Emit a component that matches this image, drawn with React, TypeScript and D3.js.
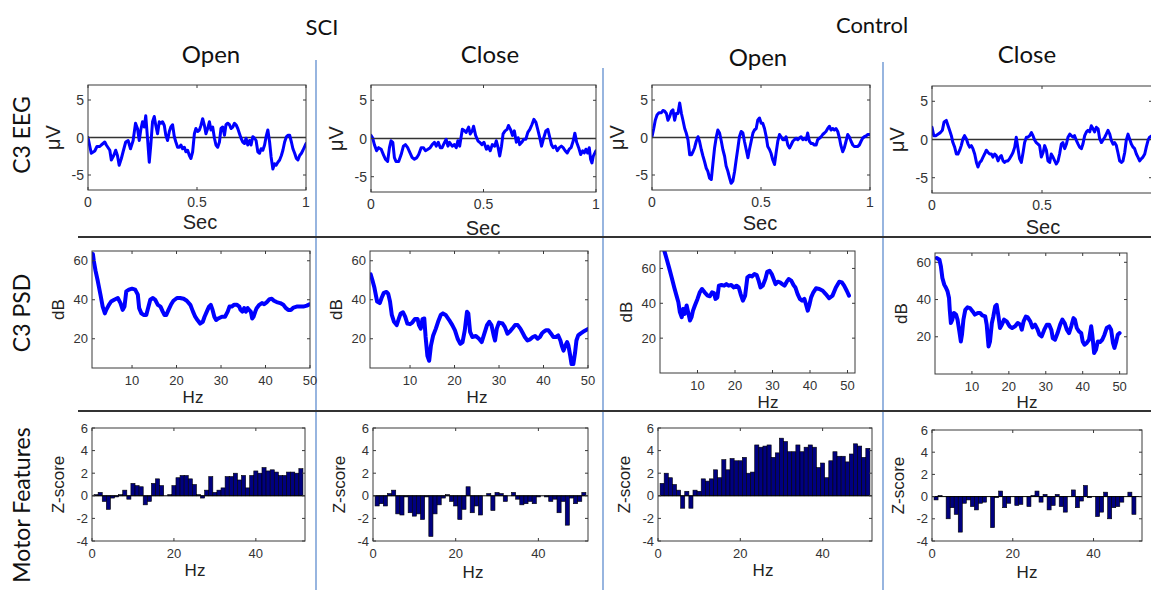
import * as d3 from 'd3';

type Pt = [number, number];

// ---- labels ----
const groups = ['SCI', 'Control'];
const conditions = ['Open', 'Close', 'Open', 'Close'];
const rowLabels = ['C3 EEG', 'C3 PSD', 'Motor Features'];

// ---- ticks ----
const eegTicksX = [0, 0.5, 1];
const eegTicksY = [-5, 0, 5];
const psdTicksX = [10, 20, 30, 40, 50];
const psdTicksY = [20, 40, 60];
const zTicksX = [0, 20, 40];
const zTicksY = [-4, -2, 0, 2, 4, 6];

// ---- C3 EEG traces [sec, uV] ----
const sciOpenEeg: Pt[] = [
  [0, 0], [0.015, -2.1], [0.031, -1.8], [0.041, -1.2], [0.054, -1.2], [0.061, -1.0], [0.077, -0.6], [0.084, -1.0],
  [0.1, -1.7], [0.107, -3.0], [0.118, -2.4], [0.127, -1.7], [0.135, -2.4], [0.143, -3.7], [0.153, -2.8], [0.161, -1.9],
  [0.173, -0.6], [0.184, -0.4], [0.195, -1.5], [0.207, -0.4], [0.218, 1.9], [0.227, 1.2], [0.235, -0.4], [0.242, 1.0],
  [0.25, 2.1], [0.258, 1.4], [0.265, 2.9], [0.273, -0.1], [0.281, -3.3], [0.288, -1.0], [0.296, 2.1], [0.304, 2.8],
  [0.311, 1.6], [0.319, 0.5], [0.327, 2.1], [0.334, 1.9], [0.342, 2.1], [0.35, 1.6], [0.357, 0.3], [0.365, -0.4],
  [0.373, 0.8], [0.38, 1.4], [0.388, 1.7], [0.396, 0.1], [0.403, -0.6], [0.411, -1.3], [0.419, -1.3], [0.426, -1.0],
  [0.434, -1.5], [0.442, -1.3], [0.449, -1.9], [0.457, -1.7], [0.465, -2.4], [0.472, -2.8], [0.48, -1.9], [0.488, 0.5],
  [0.495, 1.2], [0.503, 0.8], [0.511, 1.0], [0.518, 1.6], [0.526, 2.5], [0.534, 1.6], [0.541, 0.5], [0.549, 1.2],
  [0.557, 2.1], [0.564, 1.0], [0.572, 1.4], [0.58, -0.1], [0.587, -1.0], [0.595, -1.3], [0.603, -0.6], [0.61, 1.2],
  [0.618, 1.4], [0.626, 0.3], [0.633, 1.7], [0.641, 1.9], [0.649, 1.7], [0.656, 1.2], [0.664, 1.4], [0.672, 1.9],
  [0.679, 1.7], [0.687, 1.2], [0.695, 0.5], [0.702, -0.1], [0.71, -0.6], [0.718, -0.8], [0.725, -0.1], [0.733, -1.0],
  [0.741, -0.4], [0.748, -1.0], [0.756, 0.1], [0.764, -0.1], [0.771, -0.4], [0.779, -1.9], [0.787, -2.1], [0.794, -1.5],
  [0.802, -1.7], [0.81, -1.0], [0.817, 0.1], [0.825, 1.0], [0.833, -0.6], [0.84, -2.6], [0.848, -4.2], [0.856, -3.5],
  [0.863, -3.7], [0.871, -3.3], [0.879, -3.0], [0.887, -2.4], [0.894, -1.7], [0.902, -0.6], [0.91, 0.1], [0.917, 0.3],
  [0.925, 0.3], [0.933, -0.6], [0.94, -1.5], [0.948, -2.1], [0.956, -2.8], [0.963, -3.0], [0.971, -2.4], [0.979, -2.1],
  [0.986, -1.7], [1, -0.8],
];
const sciCloseEeg: Pt[] = [
  [0, 0.4], [0.007, 0.1], [0.015, -0.8], [0.025, -1.6], [0.034, -1.2], [0.045, -1.4], [0.055, -2.1], [0.064, -2.7],
  [0.074, -3.0], [0.082, -1.2], [0.089, -0.3], [0.097, -0.5], [0.104, -2.5], [0.111, -3.0], [0.123, -3.0], [0.134, -2.1],
  [0.144, -1.0], [0.153, -0.8], [0.163, -1.2], [0.174, -1.9], [0.183, -2.5], [0.193, -2.7], [0.204, -2.5], [0.212, -2.1],
  [0.223, -1.2], [0.233, -1.2], [0.242, -1.6], [0.253, -1.4], [0.263, -1.2], [0.272, -0.8], [0.282, -0.5], [0.29, -1.0],
  [0.299, -0.5], [0.308, -1.2], [0.316, -1.2], [0.327, -0.5], [0.334, -0.1], [0.342, -1.0], [0.349, -0.5], [0.361, -1.0],
  [0.371, -0.8], [0.379, -1.2], [0.386, -0.3], [0.394, -1.0], [0.406, 1.2], [0.416, 1.0], [0.423, 0.8], [0.434, 1.5],
  [0.441, 0.6], [0.45, 1.0], [0.456, 1.6], [0.465, 0.4], [0.475, -0.3], [0.483, -0.5], [0.493, -0.8], [0.502, -0.5],
  [0.513, -1.4], [0.52, -1.0], [0.53, -1.6], [0.539, -0.8], [0.55, -1.0], [0.557, -0.3], [0.565, -1.2], [0.572, -2.3],
  [0.58, -1.0], [0.587, 0.6], [0.596, 1.0], [0.605, 1.2], [0.611, 1.7], [0.62, 1.2], [0.629, 0.4], [0.637, 1.0],
  [0.646, -0.5], [0.654, 0.1], [0.661, -0.8], [0.67, -0.5], [0.679, -0.1], [0.688, -0.1], [0.697, 0.8], [0.706, 1.2],
  [0.715, 1.8], [0.724, 2.5], [0.733, 2.1], [0.741, 1.2], [0.75, 0.1], [0.758, -1.0], [0.768, 0.1], [0.777, 1.0],
  [0.786, 1.2], [0.795, 0.1], [0.802, -0.8], [0.81, -1.2], [0.819, -1.0], [0.828, -1.6], [0.837, -1.2], [0.846, -1.0],
  [0.854, -1.2], [0.863, -1.6], [0.872, -1.9], [0.881, -1.4], [0.889, -1.2], [0.899, -0.3], [0.906, 0.7], [0.914, -0.5],
  [0.923, -1.2], [0.932, -2.1], [0.941, -1.6], [0.948, -1.9], [0.955, -1.4], [0.963, -1.9], [0.97, -1.2], [0.976, -2.7],
  [0.982, -3.2], [0.988, -2.3], [1, -1.6],
];
const ctlOpenEeg: Pt[] = [
  [0, 0.1], [0.008, 1.2], [0.015, 2.3], [0.023, 3.0], [0.032, 3.3], [0.043, 3.3], [0.05, 3.6], [0.058, 3.5],
  [0.066, 3.2], [0.073, 2.3], [0.081, 2.8], [0.089, 3.5], [0.096, 3.7], [0.104, 2.3], [0.111, 3.2], [0.119, 3.2],
  [0.127, 4.6], [0.135, 3.2], [0.142, 2.3], [0.15, 1.2], [0.157, 0.6], [0.165, -0.3], [0.173, -2.3], [0.181, -2.3],
  [0.188, -1.9], [0.195, -1.4], [0.203, -0.5], [0.211, 0.1], [0.218, -0.5], [0.226, -1.6], [0.234, -2.5], [0.241, -3.2],
  [0.249, -4.1], [0.256, -4.5], [0.264, -5.4], [0.272, -5.6], [0.279, -3.6], [0.287, -1.4], [0.295, 0.1], [0.302, 1.0],
  [0.31, 0.6], [0.318, -0.5], [0.325, -1.6], [0.333, -2.5], [0.34, -3.8], [0.348, -4.5], [0.356, -5.4], [0.363, -6.1],
  [0.371, -5.8], [0.379, -4.5], [0.386, -3.0], [0.394, -1.4], [0.401, 0.1], [0.409, 0.8], [0.417, 0.6], [0.424, -0.5],
  [0.432, -1.6], [0.44, -2.7], [0.447, -1.6], [0.455, -0.5], [0.463, 0.6], [0.47, 1.0], [0.478, 1.2], [0.485, 2.3],
  [0.493, 2.6], [0.501, 1.9], [0.508, 1.9], [0.516, 1.2], [0.524, 0.1], [0.531, -1.2], [0.539, -1.6], [0.546, -2.1],
  [0.554, -3.0], [0.562, -3.6], [0.569, -2.1], [0.577, -0.5], [0.585, 0.4], [0.592, 0.1], [0.6, -0.3], [0.608, -0.3],
  [0.615, 0.1], [0.623, -1.0], [0.631, -1.4], [0.638, -1.0], [0.646, -0.5], [0.653, -0.3], [0.661, -0.1], [0.669, -0.3],
  [0.676, -0.1], [0.684, 0.1], [0.692, -0.3], [0.699, -0.1], [0.707, -0.3], [0.714, 0.6], [0.722, -0.5], [0.73, -0.8],
  [0.737, -0.8], [0.745, -1.0], [0.753, -1.0], [0.76, -0.3], [0.768, -0.1], [0.776, 0.1], [0.783, 0.4], [0.791, 0.6],
  [0.798, 0.8], [0.806, 1.2], [0.814, 1.5], [0.821, 1.0], [0.829, 1.2], [0.837, 1.0], [0.844, 1.2], [0.852, 0.8],
  [0.86, -0.1], [0.866, -1.0], [0.875, -1.9], [0.882, -1.4], [0.89, -0.5], [0.898, 0.4], [0.905, 0.1], [0.913, -0.5],
  [0.921, -1.0], [0.928, -1.2], [0.936, -1.2], [0.943, -1.2], [0.951, -1.0], [0.959, -0.5], [0.966, -0.1], [0.974, 0.1],
  [0.982, 0.2], [0.989, 0.4], [1, 0.4],
];
const ctlCloseEeg: Pt[] = [
  [0, 1.6], [0.008, 0.5], [0.017, 0.5], [0.027, 0.7], [0.038, 0.9], [0.047, 1.2], [0.055, 2.3], [0.065, 2.5],
  [0.073, 1.8], [0.08, 1.2], [0.088, 0.5], [0.095, -0.4], [0.103, -1.0], [0.111, -1.9], [0.118, -1.9], [0.126, -1.4],
  [0.133, -0.8], [0.141, 0.1], [0.148, 0.5], [0.156, 0.1], [0.164, -0.6], [0.171, -1.0], [0.179, -0.8], [0.186, -1.2],
  [0.194, -1.9], [0.202, -3.0], [0.209, -3.6], [0.217, -3.0], [0.224, -2.8], [0.232, -2.3], [0.239, -1.9], [0.247, -1.4],
  [0.255, -1.7], [0.262, -1.9], [0.27, -1.9], [0.277, -2.3], [0.285, -1.9], [0.292, -2.1], [0.3, -2.8], [0.308, -2.3],
  [0.315, -2.1], [0.323, -2.8], [0.33, -3.0], [0.338, -2.8], [0.345, -2.8], [0.353, -2.5], [0.361, -2.1], [0.368, -1.7],
  [0.376, -1.0], [0.383, 0.3], [0.391, -1.2], [0.398, -2.5], [0.406, -3.0], [0.414, -1.7], [0.421, -0.4], [0.429, 0.3],
  [0.436, 0.3], [0.444, 0.5], [0.452, 0.9], [0.459, 0.5], [0.467, -0.1], [0.474, -0.4], [0.482, -0.6], [0.489, -0.8],
  [0.497, -2.3], [0.505, -1.7], [0.512, -0.8], [0.52, -1.4], [0.527, -2.8], [0.535, -3.0], [0.542, -1.9], [0.55, -2.3],
  [0.558, -2.8], [0.565, -3.2], [0.573, -2.8], [0.58, -1.9], [0.588, -0.6], [0.595, -0.4], [0.603, -1.2], [0.611, -0.6],
  [0.618, 0.3], [0.626, 0.7], [0.633, 0.5], [0.641, 0.3], [0.648, 0.5], [0.656, -0.1], [0.664, -0.6], [0.671, -1.0],
  [0.679, -1.2], [0.686, -0.6], [0.694, 0.5], [0.702, 1.0], [0.709, 1.2], [0.717, 1.0], [0.724, 1.8], [0.732, 1.4],
  [0.739, 1.0], [0.747, 1.6], [0.755, 1.4], [0.762, 0.1], [0.77, -0.4], [0.777, -0.1], [0.785, 0.3], [0.792, 0.7],
  [0.8, 1.2], [0.808, 0.7], [0.815, -0.1], [0.823, -0.6], [0.83, -0.4], [0.838, -0.8], [0.845, -1.7], [0.853, -2.8],
  [0.861, -3.0], [0.868, -2.8], [0.876, -1.7], [0.883, -0.1], [0.891, 0.7], [0.898, 0.1], [0.906, -0.6], [0.914, -1.0],
  [0.921, -1.2], [0.929, -1.9], [0.936, -2.3], [0.944, -2.8], [0.952, -2.5], [0.959, -2.3], [0.967, -1.9], [0.974, -1.0],
  [0.982, -0.1], [0.989, 0.3], [1, 0.5],
];

// ---- C3 PSD traces [Hz, dB] ----
const sciOpenPsd: Pt[] = [
  [1.2, 63.5], [1.4, 60], [1.8, 54.8], [2.3, 49.6], [2.9, 42.6], [3.4, 36.5], [3.9, 33], [4.2, 34.8], [4.8, 37.4],
  [5.3, 39.1], [6.0, 40], [6.8, 40.9], [7.4, 38.3], [7.9, 34.8], [8.3, 36.5], [8.7, 44.3], [9.3, 45.2], [10, 45.7],
  [10.7, 45.2], [11.3, 42.6], [11.6, 35.7], [12.1, 33], [12.6, 32.2], [13.2, 32.2], [13.7, 36.5], [14.1, 40],
  [14.7, 40.9], [15.2, 40], [15.8, 37.4], [16.4, 36.5], [16.9, 33.9], [17.3, 32.2], [17.7, 32.2], [18.2, 34.8],
  [18.8, 37.7], [19.3, 39.5], [20.1, 40.9], [20.8, 40.9], [21.6, 40.5], [22.3, 39.5], [23.1, 37.4], [23.7, 33.9],
  [24.2, 31.3], [24.7, 29.6], [25.3, 27.8], [25.9, 28.7], [26.3, 31.3], [26.8, 33.9], [27.3, 36.5], [27.7, 37.4],
  [28.1, 34.8], [28.5, 31.3], [28.9, 29.6], [29.4, 30.4], [30.2, 31.3], [30.9, 31.3], [31.5, 33.9], [31.9, 36.5],
  [32.4, 36.5], [32.9, 37.4], [33.6, 37.4], [34.1, 36.5], [34.4, 34.8], [34.8, 33.9], [35.2, 35.7], [35.6, 33.9],
  [36.0, 35.7], [36.3, 34.8], [36.7, 33.9], [37.0, 30.4], [37.3, 31.3], [37.7, 33.9], [38.0, 35.7], [38.6, 37.4],
  [39.2, 38.3], [39.7, 37.7], [40.3, 38.8], [40.9, 40.3], [41.4, 40.5], [41.9, 39.5], [42.5, 38.8], [43.3, 38.3],
  [44.0, 37.4], [44.6, 35.7], [45.1, 34.8], [45.7, 34.8], [46.3, 36], [47.0, 36.5], [47.8, 36.5], [48.5, 36.5],
  [49.3, 37], [49.9, 37.7],
];
const sciClosePsd: Pt[] = [
  [1.15, 53], [1.5, 50.4], [2.0, 46.1], [2.6, 39.1], [3.2, 38.3], [3.6, 40.9], [4.1, 43.5], [4.7, 44], [5.1, 43],
  [5.5, 39.1], [5.9, 32.2], [6.4, 28.7], [7.0, 27], [7.5, 30.4], [7.9, 33], [8.4, 33.6], [8.9, 31.3], [9.4, 27.8],
  [10.0, 27.5], [10.5, 28.3], [11.1, 30.1], [11.7, 30.1], [12.0, 27], [12.4, 25.2], [12.8, 30.1], [13.2, 30.4],
  [13.5, 20.9], [13.9, 11.3], [14.3, 8.7], [14.7, 16.5], [15.2, 21.7], [15.8, 25.2], [16.3, 28.7], [16.9, 32.2],
  [17.4, 33], [18.0, 32.2], [18.8, 29.6], [19.5, 27], [20.1, 24.3], [20.7, 20], [21.3, 17.4], [21.8, 18.3],
  [22.3, 24.3], [22.8, 33.9], [23.1, 33], [23.5, 23.5], [24.0, 20.9], [24.8, 21.4], [25.5, 20], [26.1, 18.3],
  [26.7, 22.6], [27.3, 27], [27.8, 28.7], [28.3, 27], [28.8, 21.7], [29.1, 19.1], [29.5, 25.2], [30.0, 28.3],
  [30.8, 27.8], [31.3, 26.1], [31.9, 22.6], [32.5, 23.8], [33.0, 25.2], [33.6, 27], [34.2, 27], [34.8, 25.2],
  [35.3, 23.1], [35.8, 20.9], [36.4, 19.1], [37.0, 19.7], [37.6, 20.9], [38.1, 21.4], [38.7, 20], [39.2, 20.9],
  [39.6, 22.6], [40.0, 23.5], [40.5, 24.3], [41.1, 24.3], [41.7, 22.6], [42.2, 20.9], [42.8, 20.9], [43.3, 21.7],
  [43.8, 19.1], [44.1, 16.5], [44.5, 13.9], [44.9, 16.5], [45.3, 18.3], [45.6, 16.5], [46.0, 11.3], [46.3, 7],
  [46.7, 7], [47.1, 13], [47.4, 19.1], [47.8, 21.7], [48.3, 22.6], [49.2, 24], [50, 25],
];
const ctlOpenPsd: Pt[] = [
  [0.9, 72], [1.8, 65.3], [2.4, 60.6], [3.1, 54.9], [3.8, 49.1], [4.4, 44.4], [4.9, 40.6], [5.3, 34.9], [5.8, 32],
  [6.2, 36.8], [6.6, 33.9], [7.1, 38.7], [7.5, 34.9], [8.0, 30.1], [8.4, 32], [8.8, 35.8], [9.3, 38.7], [10.0, 42.5],
  [10.6, 46.3], [11.2, 48.2], [11.9, 46.3], [12.7, 44.4], [13.3, 44], [13.9, 46.3], [14.4, 45.9], [14.8, 42.5],
  [15.3, 43.4], [15.7, 50.1], [16.4, 50.5], [17.1, 50.1], [17.7, 51], [18.3, 50.1], [19.0, 50.5], [19.7, 49.1],
  [20.4, 50.1], [21.0, 49.1], [21.5, 45.3], [22.1, 41.5], [22.7, 44.4], [23.3, 54.9], [23.9, 55.8], [24.5, 55.4],
  [25.2, 56.8], [25.8, 56.2], [26.3, 53], [26.8, 49.1], [27.4, 50.1], [28.1, 53.9], [28.6, 58.1], [29.2, 58.7],
  [29.8, 56.8], [30.3, 53.9], [30.8, 51], [31.4, 52.4], [32.0, 52], [32.6, 51], [33.2, 50.1], [33.8, 52.4],
  [34.3, 53.9], [35.0, 53], [35.6, 50.5], [36.1, 49.1], [36.7, 45.3], [37.3, 42.5], [37.9, 41.5], [38.5, 42.5],
  [38.9, 39.6], [39.4, 35.8], [39.8, 38.7], [40.3, 43.4], [40.9, 46.3], [41.6, 48.6], [42.5, 48.2], [43.4, 47.2],
  [44.2, 45.3], [45.1, 42.9], [46.0, 44.4], [46.9, 49.1], [47.8, 52.4], [48.5, 52], [49.1, 50.1], [49.8, 47.2],
  [50.4, 44.4],
];
const ctlClosePsd: Pt[] = [
  [0.45, 62.3], [1.2, 61.4], [1.6, 57.8], [2.0, 51.6], [2.5, 48.0], [3.0, 46.2], [3.4, 44.4], [3.8, 40.8], [4.0, 34.5],
  [4.3, 27.4], [4.7, 29.2], [5.1, 32.8], [5.7, 31.9], [6.1, 29.2], [6.6, 22.9], [7.0, 17.5], [7.3, 21.1], [7.7, 29.2],
  [8.2, 34.5], [8.8, 35.8], [9.5, 35.4], [10.2, 33.6], [10.8, 31.9], [11.6, 32.8], [12.2, 32.8], [12.8, 31.5],
  [13.6, 30.9], [14.0, 26.5], [14.5, 14.8], [14.9, 17.5], [15.4, 27.4], [15.8, 30.9], [16.3, 36.3], [16.7, 37.2],
  [17.2, 30.9], [17.6, 24.7], [18.1, 26.5], [18.7, 29.2], [19.4, 28.3], [20.2, 25.6], [20.9, 24.7], [21.7, 25.6],
  [22.4, 27.4], [23.1, 26.5], [23.5, 23.8], [24.0, 28.3], [24.6, 30.9], [25.1, 30.4], [25.8, 28.3], [26.4, 25.0],
  [27.1, 26.5], [27.8, 23.8], [28.3, 21.1], [28.9, 20.2], [29.6, 23.8], [30.3, 26.5], [30.9, 26.5], [31.5, 23.8],
  [31.9, 19.3], [32.5, 18.4], [33.2, 22.0], [33.9, 26.5], [34.5, 29.2], [35.1, 27.4], [35.7, 23.8], [36.3, 22.0],
  [36.9, 25.6], [37.5, 30.0], [37.9, 29.2], [38.4, 24.7], [39.0, 22.9], [39.6, 22.0], [40.0, 17.5], [40.5, 15.7],
  [41.1, 16.7], [41.7, 18.4], [42.3, 25.6], [42.6, 21.1], [43.1, 11.3], [43.6, 13.0], [44.1, 17.5], [44.7, 17.2],
  [45.3, 18.4], [45.9, 21.1], [46.5, 24.7], [47.2, 25.6], [47.7, 23.8], [48.2, 16.7], [48.6, 14.0], [49.1, 17.5],
  [49.5, 21.1], [50.0, 22.0],
];

// ---- Motor features: z-score per 1 Hz bin, bins 1..51 ----
const sciOpenZ = [
  0.1, 0.3, -0.5, -1.2, -0.2, -0.1, 0.1, 0.5, -0.3, 1.1, 0.9, 0.8, -0.8, -0.5, 1.1, 1.5, 0.9, 0.0, 0.1, 0.9,
  1.6, 1.8, 1.8, 1.5, 1.0, 0.1, -0.2, 0.5, 1.7, 0.3, 0.5, 0.7, 1.7, 1.7, 2.0, 1.4, 1.8, 0.7, 1.8, 2.2,
  2.0, 2.5, 2.2, 2.3, 2.1, 1.8, 1.8, 2.1, 2.1, 2.0, 2.4,
];
const sciCloseZ = [
  -0.9, -0.7, -0.9, 0.2, 0.5, -1.6, -1.7, -0.1, -1.5, -1.8, -1.6, -2.1, -0.1, -3.6, -1.6, -0.8, -0.2, 0.1, -0.5, -0.9,
  -2.1, -1.2, 0.8, -1.5, -0.9, -1.7, 0.0, 0.2, -1.3, 0.3, 0.2, -0.5, 0.0, 0.3, -0.3, -0.8, -0.7, -0.5, -0.7, -0.1,
  0.0, -0.1, -0.5, -0.3, -1.5, -0.5, -2.6, -0.2, -0.7, -0.5, 0.3,
];
const ctlOpenZ = [
  1.1, 2.0, 1.6, 1.0, 0.5, -1.1, 0.4, -1.1, 0.5, 0.4, 1.5, 1.3, 1.5, 2.3, 1.6, 3.2, 2.3, 3.3, 3.1, 3.1,
  3.4, 2.0, 2.1, 4.5, 4.3, 4.4, 4.5, 3.4, 3.8, 5.1, 4.8, 3.9, 3.9, 4.5, 3.9, 4.3, 4.5, 4.3, 2.5, 2.9,
  1.6, 3.1, 3.9, 3.5, 3.5, 3.0, 3.7, 4.6, 4.4, 3.4, 4.2,
];
const ctlCloseZ = [
  -0.3, 0.1, 0.0, -2.0, -1.0, -1.6, -3.2, -0.6, -0.3, -0.9, -1.2, -0.6, -0.5, 0.0, -2.8, -0.1, 0.5, -1.0, -0.6, 0.0,
  -0.8, -0.7, 0.0, -0.9, 0.1, 0.5, -0.5, 0.2, -1.2, -0.8, 0.2, -0.9, -1.4, 0.0, 0.6, -1.0, -0.4, 1.0, -0.1, 0.0,
  -1.8, -1.4, 0.4, -2.0, -1.0, -0.9, -0.5, 0.0, 0.4, -1.6, 0.0,
];

const FONT = "'Liberation Sans', Arial, sans-serif";
const HEAD_FONT = "Lato, 'Open Sans', sans-serif";
const AX = '#3a3a3a';
const BLUE = '#0000ff';
const W = 1151;

type PanelProps = {
  id: string;
  box: [number, number, number, number];
  xDomain: [number, number];
  yDomain: [number, number];
  xTicks: number[];
  yTicks: number[];
  xLabel: string;
  yLabel: string;
  xLabelAt: [number, number];
  tickSize: number;
  labelSize: number;
  line?: Pt[];
  bars?: number[];
  zero?: boolean;
  lw?: number;
};

function Panel(p: PanelProps) {
  const [x0, y0, x1, y1] = p.box;
  const x = d3.scaleLinear().domain(p.xDomain).range([x0, x1]);
  const y = d3.scaleLinear().domain(p.yDomain).range([y1, y0]);
  const line = d3.line<Pt>().x(d => x(d[0])).y(d => y(d[1]));
  const tl = 3;
  return (
    <g>
      <defs>
        <clipPath id={p.id}>
          <rect x={x0} y={y0} width={x1 - x0} height={y1 - y0} />
        </clipPath>
      </defs>
      <g clipPath={`url(#${p.id})`}>
        {p.bars && (
          <g>
            {p.bars.map((v, i) => (
              <rect key={i} x={x(i + 0.5)} width={x(i + 1.5) - x(i + 0.5)}
                y={y(Math.max(0, v))} height={Math.abs(y(v) - y(0))}
                fill="#000080" stroke="#000" strokeWidth={0.6} />
            ))}
            <line x1={x0} x2={x1} y1={y(0)} y2={y(0)} stroke="#000" strokeWidth={1} />
          </g>
        )}
        {p.zero && <line x1={x0} x2={x1} y1={y(0)} y2={y(0)} stroke="#333" strokeWidth={1.5} />}
        {p.line && (
          <path d={line(p.line) || ''} fill="none" stroke={BLUE} strokeWidth={p.lw || 3}
            strokeLinejoin="round" strokeLinecap="round" />
        )}
      </g>
      <rect x={x0} y={y0} width={x1 - x0} height={y1 - y0} fill="none" stroke={AX} strokeWidth={1} />
      {p.xTicks.map(t => (
        <g key={'x' + t}>
          <line x1={x(t)} x2={x(t)} y1={y1} y2={y1 - tl} stroke={AX} />
          <line x1={x(t)} x2={x(t)} y1={y0} y2={y0 + tl} stroke={AX} />
          {x(t) < W - 6 && (
            <text x={x(t)} y={y1 + 17} textAnchor="middle" fontSize={p.tickSize} fill="#333" fontFamily={FONT}>{t}</text>
          )}
        </g>
      ))}
      {p.yTicks.map(t => (
        <g key={'y' + t}>
          <line x1={x0} x2={x0 + tl} y1={y(t)} y2={y(t)} stroke={AX} />
          <line x1={x1} x2={x1 - tl} y1={y(t)} y2={y(t)} stroke={AX} />
          <text x={x0 - 4} y={y(t)} dy="0.36em" textAnchor="end" fontSize={p.tickSize} fill="#333" fontFamily={FONT}>{t}</text>
        </g>
      ))}
      <text x={p.xLabelAt[0]} y={p.xLabelAt[1]} textAnchor="middle" fontSize={p.labelSize} fill="#222" fontFamily={FONT}>{p.xLabel}</text>
      <text transform={`translate(${x0 - 28},${(y0 + y1) / 2}) rotate(-90)`} textAnchor="middle"
        fontSize={p.labelSize} fill="#222" fontFamily={FONT}>{p.yLabel}</text>
    </g>
  );
}

const eegLines = [sciOpenEeg, sciCloseEeg, ctlOpenEeg, ctlCloseEeg];
const psdLines = [sciOpenPsd, sciClosePsd, ctlOpenPsd, ctlClosePsd];
const zBars = [sciOpenZ, sciCloseZ, ctlOpenZ, ctlCloseZ];

// layout (pixel boxes)
const eegBoxes: [number, number, number, number][] = [
  [88, 85, 306, 190], [371, 85, 596, 192], [652, 85, 870, 190], [932, 86, 1152, 193],
];
const eegLabelAt: [number, number][] = [[200, 229], [483, 235], [760, 230], [1043, 234]];
const psdBoxes: [number, number, number, number][] = [
  [92, 251, 310, 368], [370, 251, 588, 368], [660, 251, 855, 373], [935, 253, 1127, 374],
];
const psdXDomains: [number, number][] = [[1, 50], [1, 50], [0, 52], [0, 52]];
const psdYDomains: [number, number][] = [[5, 65], [5, 65], [0, 70], [0, 65]];
const psdLabelAt: [number, number][] = [[193, 403], [477, 403], [768, 408], [1027, 408]];
const zBoxes: [number, number, number, number][] = [
  [92, 428, 305, 541], [373, 428, 588, 541], [658, 428, 872, 541], [932, 430, 1142, 541],
];
const zLabelAt: [number, number][] = [[195, 576], [473, 578], [763, 576], [1027, 578]];

const condX = [211, 490, 758, 1027];
const condY = [63, 63, 66, 63];
const groupX = [322, 872];
const rowY = [135, 313, 505];

export default function App() {
  return (
    <svg width={W} height={590} style={{ position: 'absolute', left: 0, top: 0, background: '#fff' }}>
      <rect width={W} height={590} fill="#fff" />
      {/* separators */}
      <line x1={316} x2={316} y1={60} y2={590} stroke="#7ea3d8" strokeWidth={1.6} />
      <line x1={603} x2={603} y1={68} y2={590} stroke="#7ea3d8" strokeWidth={1.6} />
      <line x1={883} x2={883} y1={62} y2={590} stroke="#7ea3d8" strokeWidth={1.6} />
      <line x1={78} x2={W} y1={237} y2={237} stroke="#333" strokeWidth={2} />
      <line x1={78} x2={W} y1={411} y2={411} stroke="#333" strokeWidth={2} />

      {groups.map((g, i) => (
        <text key={g} x={groupX[i]} y={i === 0 ? 35 : 33} textAnchor="middle" fontSize={22} fontFamily={HEAD_FONT} fill="#111">{g}</text>
      ))}
      {conditions.map((c, i) => (
        <text key={i} x={condX[i]} y={condY[i]} textAnchor="middle" fontSize={24} fontFamily={HEAD_FONT} fill="#111">{c}</text>
      ))}
      {rowLabels.map((r, i) => (
        <text key={r} transform={`translate(30,${rowY[i]}) rotate(-90)`} textAnchor="middle" fontSize={23} fontFamily={HEAD_FONT} fill="#111">{r}</text>
      ))}

      {eegLines.map((d, i) => (
        <Panel key={'e' + i} id={'ce' + i} box={eegBoxes[i]} xDomain={[0, 1]} yDomain={[-7, 7]}
          xTicks={eegTicksX} yTicks={eegTicksY} xLabel="Sec" yLabel="μV" xLabelAt={eegLabelAt[i]}
          tickSize={14} labelSize={20} line={d} zero lw={3} />
      ))}
      {psdLines.map((d, i) => (
        <Panel key={'p' + i} id={'cp' + i} box={psdBoxes[i]} xDomain={psdXDomains[i]} yDomain={psdYDomains[i]}
          xTicks={psdTicksX} yTicks={psdTicksY} xLabel="Hz" yLabel="dB" xLabelAt={psdLabelAt[i]}
          tickSize={13} labelSize={17} line={d} lw={4} />
      ))}
      {zBars.map((d, i) => (
        <Panel key={'z' + i} id={'cz' + i} box={zBoxes[i]} xDomain={[0, 52]} yDomain={[-4, 6]}
          xTicks={zTicksX} yTicks={zTicksY} xLabel="Hz" yLabel="Z-score" xLabelAt={zLabelAt[i]}
          tickSize={13} labelSize={17} bars={d} />
      ))}
    </svg>
  );
}
